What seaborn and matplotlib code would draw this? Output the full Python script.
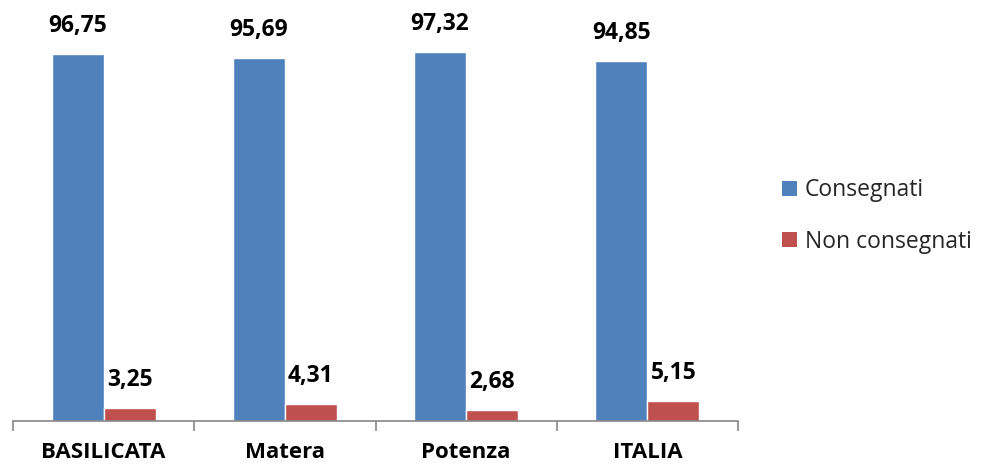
import matplotlib
matplotlib.use("Agg")
import matplotlib.pyplot as plt
import seaborn as sns
import pandas as pd
from matplotlib.patches import Patch

categories = ["BASILICATA", "Matera", "Potenza", "ITALIA"]
consegnati = [96.75, 95.69, 97.32, 94.85]
non_consegnati = [3.25, 4.31, 2.68, 5.15]
series_names = ["Consegnati", "Non consegnati"]
colors = ["#4F81BD", "#C0504D"]

df = pd.DataFrame({
    "area": categories * 2,
    "serie": [series_names[0]] * len(categories) + [series_names[1]] * len(categories),
    "valore": consegnati + non_consegnati,
})

sns.set_theme(style="white")
plt.rcParams["font.family"] = ["Open Sans", "DejaVu Sans"]

W, H = 981, 465
fig = plt.figure(figsize=(W / 100, H / 100), dpi=100)
ax = fig.add_axes([13 / W, (H - 420.5) / H, (738 - 13) / W, 417 / H])

sns.barplot(data=df, x="area", y="valore", hue="serie", order=categories,
            hue_order=series_names, palette=colors, width=0.575, gap=0,
            saturation=1, ax=ax, legend=False, errorbar=None)

for cont in ax.containers:
    labels = [f"{v:.2f}".replace(".", ",") for v in cont.datavalues]
    ax.bar_label(cont, labels=labels, padding=11.5, fontsize=16.5,
                 fontweight="bold", color="black")

ax.set_ylim(0, 110)
ax.set_xlim(-0.5, len(categories) - 0.5)
ax.set_xlabel("")
ax.set_ylabel("")
ax.set_yticks([])
for side in ["left", "right", "top"]:
    ax.spines[side].set_visible(False)
ax.spines["bottom"].set_color("#868686")
ax.spines["bottom"].set_linewidth(1.2)

ax.set_xticks(range(len(categories)))
ax.set_xticklabels(categories, fontsize=16, fontweight="bold", color="black")
ax.tick_params(axis="x", which="major", length=0, pad=15.5)
ax.set_xticks([i - 0.5 for i in range(len(categories) + 1)], minor=True)
ax.tick_params(axis="x", which="minor", length=7.5, width=1.2, color="#868686",
               direction="out", bottom=True)

handles = [Patch(facecolor=c, edgecolor="none") for c in colors]
fig.legend(handles, series_names, loc="center left",
           bbox_to_anchor=(761 / W, 1 - 216 / H), frameon=False,
           fontsize=16.5, handlelength=0.65, handleheight=0.65,
           handletextpad=0.35, labelspacing=1.2)

fig.savefig("out.png", dpi=100)
